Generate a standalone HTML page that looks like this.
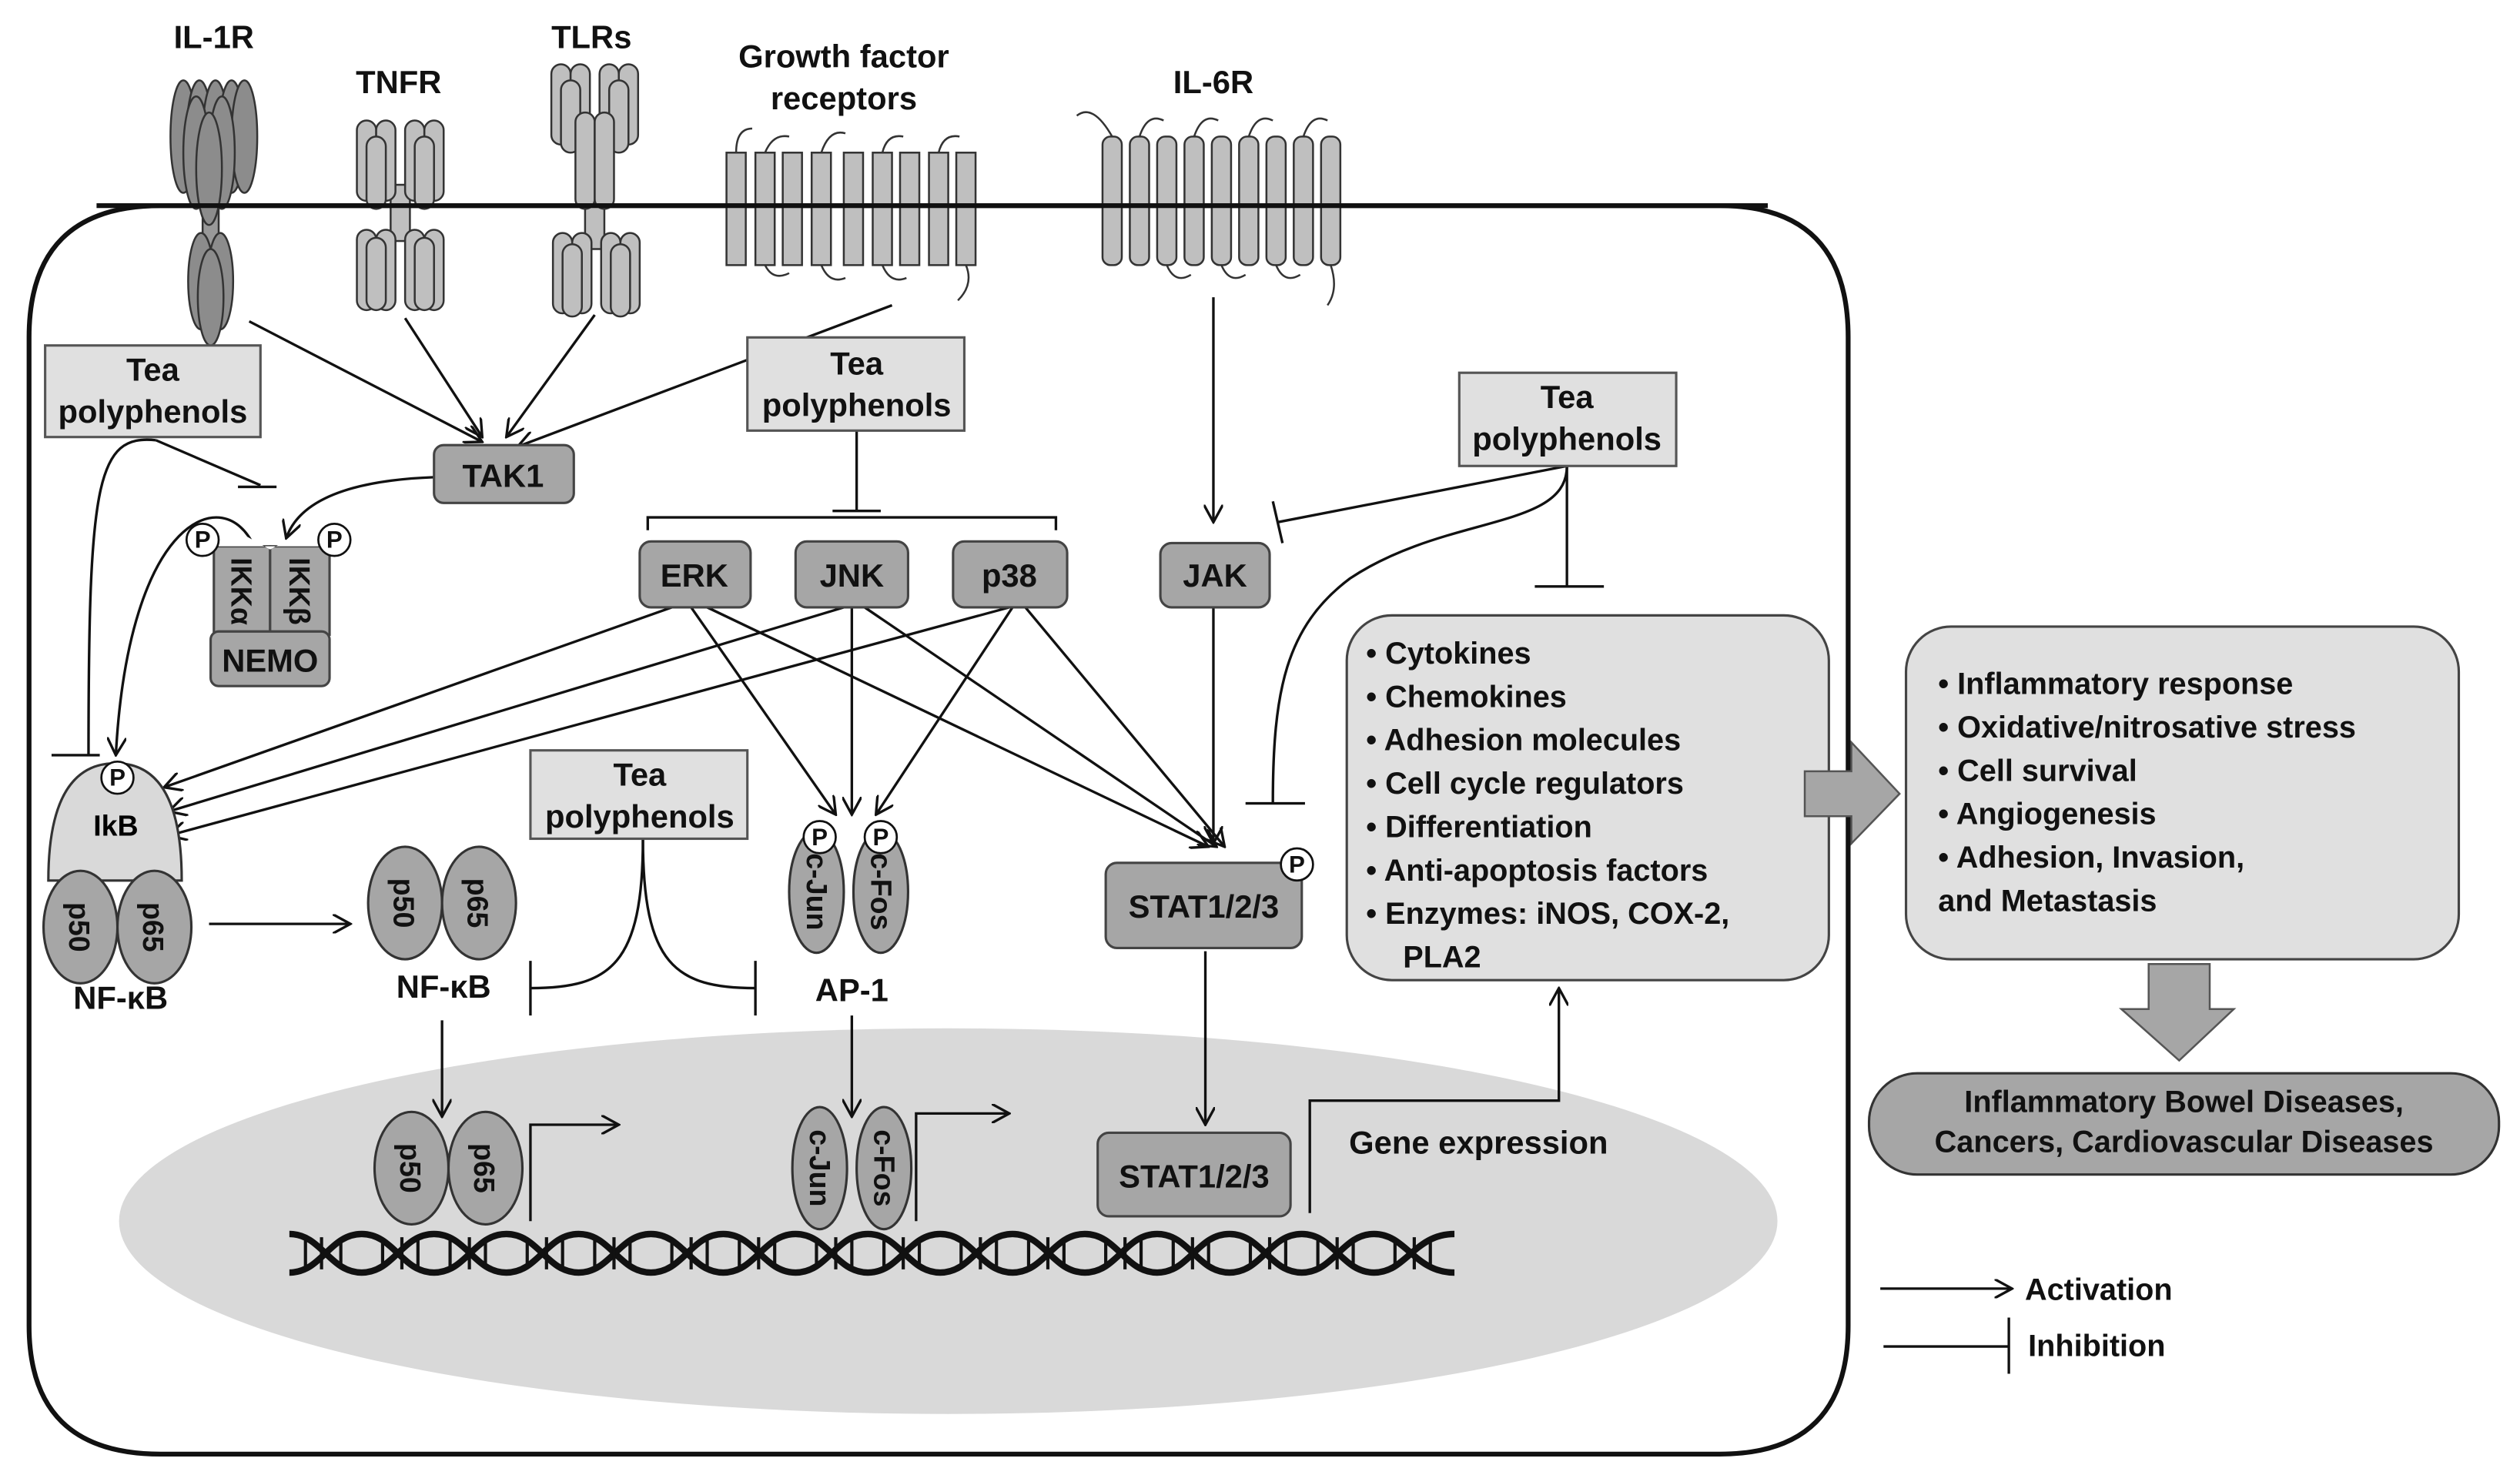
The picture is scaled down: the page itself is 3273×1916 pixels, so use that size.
<!DOCTYPE html>
<html><head><meta charset="utf-8"><style>html,body{margin:0;padding:0;background:#fff}svg{display:block}</style></head>
<body>
<svg xmlns="http://www.w3.org/2000/svg" width="3273" height="1916" viewBox="0 0 1568 918" font-family="Liberation Sans, Arial, sans-serif" font-weight="bold">
<defs>
<marker id="a" viewBox="0 0 12 12" refX="11" refY="6" markerWidth="12" markerHeight="12" markerUnits="userSpaceOnUse" orient="auto"><path d="M0,0 L11,6 L0,12" fill="none" stroke="#111" stroke-width="1.6"/></marker>
</defs>
<rect width="1568" height="918" fill="#fff"/>
<path d="M100,128 H1070 Q1150,128 1150,210 V825 Q1150,905 1070,905 H100 Q18,905 18,825 V210 Q18,128 100,128 Z" fill="#fff" stroke="#111" stroke-width="3"/>
<ellipse cx="590" cy="760" rx="516" ry="120" fill="#d9d9d9"/>
<g fill="#8c8c8c" stroke="#333" stroke-width="1.2">
<rect x="126" y="110" width="10" height="50" fill="#999"/>
<ellipse cx="114" cy="85" rx="8" ry="35"/><ellipse cx="124" cy="85" rx="8" ry="35"/><ellipse cx="134" cy="85" rx="8" ry="35"/><ellipse cx="144" cy="85" rx="8" ry="35"/><ellipse cx="152" cy="85" rx="8" ry="35"/>
<ellipse cx="122" cy="95" rx="8" ry="35"/><ellipse cx="138" cy="95" rx="8" ry="35"/><ellipse cx="130" cy="105" rx="8" ry="35"/>
<ellipse cx="125" cy="175" rx="8" ry="30"/><ellipse cx="137" cy="175" rx="8" ry="30"/><ellipse cx="131" cy="185" rx="8" ry="30"/>
</g>
<g fill="#bfbfbf" stroke="#333" stroke-width="1.2">
<rect x="243" y="115" width="12" height="35"/>
<rect x="222" y="75" width="12" height="50" rx="6"/><rect x="234" y="75" width="12" height="50" rx="6"/><rect x="252" y="75" width="12" height="50" rx="6"/><rect x="264" y="75" width="12" height="50" rx="6"/>
<rect x="228" y="85" width="12" height="45" rx="6"/><rect x="258" y="85" width="12" height="45" rx="6"/>
<rect x="222" y="143" width="12" height="50" rx="6"/><rect x="234" y="143" width="12" height="50" rx="6"/><rect x="252" y="143" width="12" height="50" rx="6"/><rect x="264" y="143" width="12" height="50" rx="6"/>
<rect x="228" y="148" width="12" height="45" rx="6"/><rect x="258" y="148" width="12" height="45" rx="6"/>
</g>
<g fill="#bfbfbf" stroke="#333" stroke-width="1.2">
<rect x="364" y="120" width="12" height="35"/>
<rect x="343" y="40" width="12" height="50" rx="6"/><rect x="355" y="40" width="12" height="50" rx="6"/><rect x="373" y="40" width="12" height="50" rx="6"/><rect x="385" y="40" width="12" height="50" rx="6"/>
<rect x="349" y="50" width="12" height="45" rx="6"/><rect x="379" y="50" width="12" height="45" rx="6"/>
<rect x="358" y="70" width="12" height="60" rx="6"/><rect x="370" y="70" width="12" height="60" rx="6"/>
<rect x="344" y="145" width="12" height="50" rx="6"/><rect x="356" y="145" width="12" height="50" rx="6"/><rect x="374" y="145" width="12" height="50" rx="6"/><rect x="386" y="145" width="12" height="50" rx="6"/>
<rect x="350" y="152" width="12" height="45" rx="6"/><rect x="380" y="152" width="12" height="45" rx="6"/>
</g>
<g fill="#bfbfbf" stroke="#333" stroke-width="1.2">
<rect x="452" y="95" width="12" height="70"/><rect x="470" y="95" width="12" height="70"/><rect x="487" y="95" width="12" height="70"/><rect x="505" y="95" width="12" height="70"/><rect x="525" y="95" width="12" height="70"/><rect x="543" y="95" width="12" height="70"/><rect x="560" y="95" width="12" height="70"/><rect x="578" y="95" width="12" height="70"/><rect x="595" y="95" width="12" height="70"/>
</g>
<path d="M458,95 q0,-15 10,-15 M476,95 q5,-12 15,-10 M511,95 q5,-15 15,-12 M549,95 q3,-12 13,-10 M584,95 q3,-12 13,-10 M476,165 q5,10 15,5 M511,165 q5,12 15,8 M549,165 q5,12 15,8 M601,165 q5,12 -5,22" fill="none" stroke="#333" stroke-width="1.2"/>
<g fill="#bfbfbf" stroke="#333" stroke-width="1.2">
<rect x="686" y="85" width="12" height="80" rx="5"/><rect x="703" y="85" width="12" height="80" rx="5"/><rect x="720" y="85" width="12" height="80" rx="5"/><rect x="737" y="85" width="12" height="80" rx="5"/><rect x="754" y="85" width="12" height="80" rx="5"/><rect x="771" y="85" width="12" height="80" rx="5"/><rect x="788" y="85" width="12" height="80" rx="5"/><rect x="805" y="85" width="12" height="80" rx="5"/><rect x="822" y="85" width="12" height="80" rx="5"/>
</g>
<path d="M670,72 q10,-8 22,13 M709,85 q5,-15 15,-10 M743,85 q5,-15 15,-10 M777,85 q5,-15 15,-10 M811,85 q5,-15 15,-10 M726,165 q5,12 15,6 M760,165 q5,12 15,6 M794,165 q5,12 15,6 M828,165 q5,15 -2,25" fill="none" stroke="#333" stroke-width="1.2"/>
<line x1="60" y1="128" x2="1100" y2="128" stroke="#111" stroke-width="3"/>
<g font-size="20" text-anchor="middle" fill="#111">
<text x="133" y="30">IL-1R</text><text x="248" y="58">TNFR</text><text x="368" y="30">TLRs</text>
<text x="525" y="42">Growth factor</text><text x="525" y="68">receptors</text><text x="755" y="58">IL-6R</text>
</g>
<g fill="none" stroke="#111" stroke-width="1.6" marker-end="url(#a)">
<line x1="155" y1="200" x2="300" y2="275"/><line x1="252" y1="198" x2="300" y2="272"/><line x1="370" y1="196" x2="315" y2="272"/><line x1="555" y1="190" x2="322" y2="278"/>
<path d="M270,297 Q190,300 178,335"/>
<path d="M158,340 C140,300 80,320 72,470"/>
<line x1="418" y1="378" x2="102" y2="490"/><line x1="525" y1="378" x2="105" y2="505"/><line x1="628" y1="378" x2="105" y2="520"/>
<line x1="430" y1="378" x2="520" y2="507"/><line x1="440" y1="378" x2="752" y2="527"/>
<line x1="530" y1="378" x2="530" y2="507"/><line x1="538" y1="378" x2="757" y2="527"/>
<line x1="630" y1="378" x2="545" y2="507"/><line x1="638" y1="378" x2="762" y2="527"/>
<line x1="755" y1="185" x2="755" y2="325"/><line x1="755" y1="378" x2="755" y2="525"/>
<line x1="130" y1="575" x2="218" y2="575"/>
<line x1="275" y1="635" x2="275" y2="695"/><line x1="530" y1="632" x2="530" y2="695"/><line x1="750" y1="592" x2="750" y2="700"/>
<path d="M815,755 V685 H970 V615"/>
<path d="M330,760 V700 H385"/><path d="M570,760 V693 H628"/>
<line x1="1170" y1="802" x2="1252" y2="802"/>
</g>
<g fill="none" stroke="#111" stroke-width="1.6">
<line x1="97" y1="274" x2="162" y2="302"/><line x1="148" y1="303" x2="172" y2="303"/>
<path d="M97,274 C60,270 55,300 55,470"/><line x1="32" y1="470" x2="62" y2="470"/>
<line x1="533" y1="268" x2="533" y2="318"/><line x1="518" y1="318" x2="548" y2="318"/>
<path d="M403,330 V322 H657 V330"/>
<line x1="975" y1="290" x2="795" y2="325"/><line x1="792" y1="312" x2="798" y2="338"/>
<line x1="975" y1="290" x2="975" y2="365"/><line x1="955" y1="365" x2="998" y2="365"/>
<path d="M975,290 C975,330 900,320 840,360 C800,390 792,430 792,500"/><line x1="775" y1="500" x2="812" y2="500"/>
<path d="M400,522 C400,600 380,615 330,615"/><line x1="330" y1="598" x2="330" y2="632"/>
<path d="M400,522 C400,600 420,615 470,615"/><line x1="470" y1="598" x2="470" y2="632"/>
<line x1="1172" y1="838" x2="1250" y2="838"/><line x1="1250" y1="820" x2="1250" y2="855"/>
</g>
<g fill="#e0e0e0" stroke="#555" stroke-width="1.5">
<rect x="28" y="215" width="134" height="57"/><rect x="465" y="210" width="135" height="58"/><rect x="908" y="232" width="135" height="58"/><rect x="330" y="467" width="135" height="55"/>
</g>
<g font-size="20" text-anchor="middle" fill="#111">
<text x="95" y="237">Tea</text><text x="95" y="263">polyphenols</text>
<text x="533" y="233">Tea</text><text x="533" y="259">polyphenols</text>
<text x="975" y="254">Tea</text><text x="975" y="280">polyphenols</text>
<text x="398" y="489">Tea</text><text x="398" y="515">polyphenols</text>
</g>
<g fill="#a6a6a6" stroke="#444" stroke-width="1.5">
<rect x="270" y="277" width="87" height="36" rx="6"/>
<rect x="398" y="337" width="69" height="41" rx="7"/><rect x="495" y="337" width="70" height="41" rx="7"/><rect x="593" y="337" width="71" height="41" rx="7"/><rect x="722" y="338" width="68" height="40" rx="7"/>
<rect x="133" y="340" width="35" height="55"/><rect x="168" y="340" width="37" height="55"/>
<rect x="131" y="393" width="74" height="34" rx="5"/>
<rect x="688" y="537" width="122" height="53" rx="7"/><rect x="683" y="705" width="120" height="52" rx="7"/>
</g>
<path d="M133,340 L150,332 L168,342 L186,332 L205,340" fill="#fff" stroke="none"/>
<g font-size="20" text-anchor="middle" fill="#111">
<text x="313" y="303">TAK1</text><text x="432" y="365">ERK</text><text x="530" y="365">JNK</text><text x="628" y="365">p38</text><text x="756" y="365">JAK</text>
<text x="168" y="418">NEMO</text><text x="749" y="571">STAT1/2/3</text><text x="743" y="739">STAT1/2/3</text>
</g>
<g font-size="18" fill="#111" text-anchor="middle">
<text transform="translate(144,368) rotate(90)">IKKα</text><text transform="translate(180,368) rotate(90)">IKKβ</text>
</g>
<path d="M30,548 Q30,475 72,475 Q113,475 113,548 Z" fill="#d9d9d9" stroke="#333" stroke-width="1.5"/>
<g fill="#a6a6a6" stroke="#333" stroke-width="1.5">
<ellipse cx="50" cy="577" rx="23" ry="35"/><ellipse cx="96" cy="577" rx="23" ry="35"/>
<ellipse cx="252" cy="562" rx="23" ry="35"/><ellipse cx="298" cy="562" rx="23" ry="35"/>
<ellipse cx="508" cy="555" rx="17" ry="38"/><ellipse cx="548" cy="555" rx="17" ry="38"/>
<ellipse cx="256" cy="727" rx="23" ry="35"/><ellipse cx="302" cy="727" rx="23" ry="35"/>
<ellipse cx="510" cy="727" rx="17" ry="38"/><ellipse cx="550" cy="727" rx="17" ry="38"/>
</g>
<text x="72" y="520" font-size="18" text-anchor="middle">IkB</text>
<g font-size="18" fill="#111" text-anchor="middle">
<text transform="translate(43,577) rotate(90)">p50</text><text transform="translate(89,577) rotate(90)">p65</text>
<text transform="translate(245,562) rotate(90)">p50</text><text transform="translate(291,562) rotate(90)">p65</text>
<text transform="translate(249,727) rotate(90)">p50</text><text transform="translate(295,727) rotate(90)">p65</text>
<text transform="translate(502,555) rotate(90)">c-Jun</text><text transform="translate(542,555) rotate(90)">c-Fos</text>
<text transform="translate(504,727) rotate(90)">c-Jun</text><text transform="translate(544,727) rotate(90)">c-Fos</text>
</g>
<g font-size="20" text-anchor="middle" fill="#111">
<text x="75" y="628">NF-κB</text><text x="276" y="621">NF-κB</text><text x="530" y="623">AP-1</text><text x="920" y="718">Gene expression</text>
</g>
<g fill="#fff" stroke="#111" stroke-width="1.3">
<circle cx="126" cy="336" r="10"/><circle cx="208" cy="336" r="10"/><circle cx="73" cy="484" r="10"/><circle cx="510" cy="521" r="10"/><circle cx="548" cy="521" r="10"/><circle cx="807" cy="538" r="10"/>
</g>
<g font-size="15" text-anchor="middle" fill="#111">
<text x="126" y="341">P</text><text x="208" y="341">P</text><text x="73" y="489">P</text><text x="510" y="526">P</text><text x="548" y="526">P</text><text x="807" y="543">P</text>
</g>
<g fill="none" stroke="#111" stroke-width="4">
<path d="M180,768 C200,768 205,792 225,792 S250,768 270,768 S295,792 315,792 S340,768 360,768 S385,792 405,792 S430,768 450,768 S475,792 495,792 S520,768 540,768 S565,792 585,792 S610,768 630,768 S655,792 675,792 S700,768 720,768 S745,792 765,792 S790,768 810,768 S835,792 855,792 S880,768 905,768"/>
<path d="M180,792 C200,792 205,768 225,768 S250,792 270,792 S295,768 315,768 S340,792 360,792 S385,768 405,768 S430,792 450,792 S475,768 495,768 S520,792 540,792 S565,768 585,768 S610,792 630,792 S655,768 675,768 S700,792 720,792 S745,768 765,768 S790,792 810,792 S835,768 855,768 S880,792 905,792"/>
</g>
<g stroke="#111" stroke-width="2">
<path d="M190,772v16M200,770v20M212,772v16M238,772v16M250,770v20M260,772v16M280,772v16M292,770v20M302,772v16M328,772v16M340,770v20M350,772v16M370,772v16M382,770v20M392,772v16M418,772v16M430,770v20M440,772v16M460,772v16M472,770v20M482,772v16M508,772v16M520,770v20M530,772v16M550,772v16M562,770v20M572,772v16M598,772v16M610,770v20M620,772v16M640,772v16M652,770v20M662,772v16M688,772v16M700,770v20M710,772v16M730,772v16M742,770v20M752,772v16M778,772v16M790,770v20M800,772v16M820,772v16M832,770v20M842,772v16M868,772v16M880,770v20M890,772v16"/>
</g>
<rect x="838" y="383" width="300" height="227" rx="28" fill="#e0e0e0" stroke="#444" stroke-width="1.5"/>
<g font-size="19" fill="#111">
<text x="850" y="413">•  Cytokines</text><text x="850" y="440">•  Chemokines</text><text x="850" y="467">•  Adhesion molecules</text><text x="850" y="494">•  Cell cycle regulators</text><text x="850" y="521">•  Differentiation</text><text x="850" y="548">•  Anti-apoptosis factors</text><text x="850" y="575">•  Enzymes:  iNOS,  COX-2,</text><text x="873" y="602">PLA2</text>
</g>
<path d="M1123,480 H1152 V462 L1182,494 L1152,525 V508 H1123 Z" fill="#a6a6a6" stroke="#555" stroke-width="1.2"/>
<rect x="1186" y="390" width="344" height="207" rx="28" fill="#e0e0e0" stroke="#444" stroke-width="1.5"/>
<g font-size="19" fill="#111">
<text x="1206" y="432">•  Inflammatory response</text><text x="1206" y="459">•  Oxidative/nitrosative stress</text><text x="1206" y="486">•  Cell survival</text><text x="1206" y="513">•  Angiogenesis</text><text x="1206" y="540">•  Adhesion, Invasion,</text><text x="1206" y="567">and Metastasis</text>
</g>
<path d="M1337,600 H1375 V628 H1390 L1356,660 L1320,628 H1337 Z" fill="#a6a6a6" stroke="#555" stroke-width="1.2"/>
<rect x="1163" y="668" width="392" height="63" rx="30" fill="#a6a6a6" stroke="#333" stroke-width="1.5"/>
<g font-size="19" fill="#111" text-anchor="middle">
<text x="1359" y="692">Inflammatory Bowel Diseases,</text><text x="1359" y="717">Cancers, Cardiovascular Diseases</text>
</g>
<g font-size="19" fill="#111"><text x="1260" y="809">Activation</text><text x="1262" y="844">Inhibition</text></g>
</svg>
</body></html>
